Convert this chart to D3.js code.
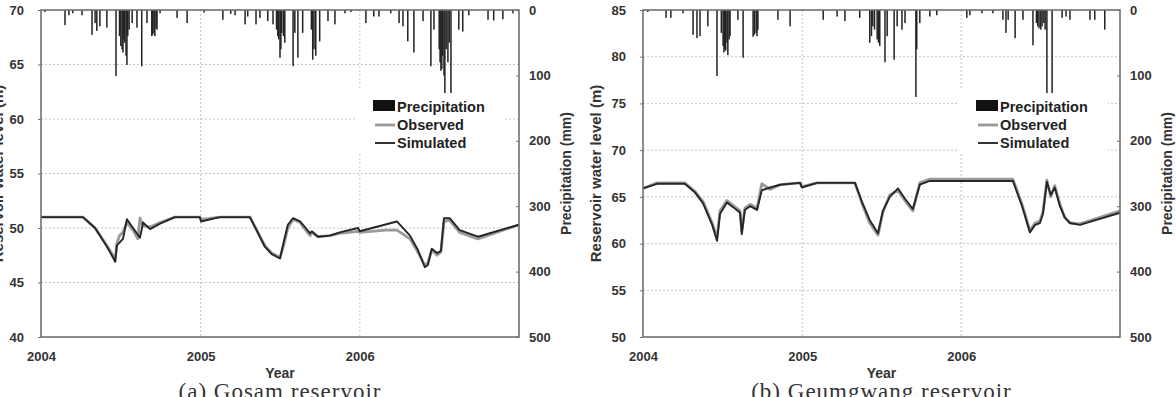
<!doctype html>
<html>

<head>
    <meta charset="UTF-8">
    <title>Reservoir water level</title>
    <script src="https://d3js.org/d3.v7.min.js"></script>
    <style>
        body { margin: 0; background: #fff; }
        text { font-family: "Liberation Sans", Arial, sans-serif; }
    </style>
</head>

<body>
    <script>
        var width = 1176;
        var height = 397;

        // x: days counted from 2004-01-01
        var yearLabels = ["2004", "2005", "2006"];
        var precipTicks = [0, 100, 200, 300, 400, 500];
        var gosamLevelTicks = [40, 45, 50, 55, 60, 65, 70];
        var geumLevelTicks = [50, 55, 60, 65, 70, 75, 80, 85];
        var legendLabels = ["Precipitation", "Observed", "Simulated"];

        // [day, mm]
        var gosamRain = [[9, 3], [55, 23], [64, 8], [73, 5], [94, 8], [117, 38], [124, 20], [128, 32], [135, 25],
            [151, 27], [172, 101], [180, 40], [183, 55], [186, 60], [188, 65], [190, 45], [192, 50], [195, 70],
            [197, 84], [199, 40], [202, 30], [209, 20], [220, 27],
            [231, 86], [243, 20], [254, 40], [256, 38], [259, 35], [261, 40], [264, 28], [266, 30], [273, 5],
            [312, 12], [335, 20],
            [374, 4], [417, 15], [435, 6], [445, 8], [468, 22], [474, 10], [493, 22], [502, 12], [520, 17],
            [532, 22], [540, 30], [543, 40], [545, 45], [548, 73], [550, 60], [552, 35], [556, 40], [559, 50],
            [578, 86], [582, 35], [589, 73], [600, 35],
            [620, 30], [623, 76], [626, 60], [630, 70], [639, 48], [658, 17], [674, 22], [697, 5], [711, 3],
            [745, 20], [763, 10], [775, 10], [802, 5], [821, 20], [830, 25], [841, 48], [855, 65], [876, 17],
            [894, 86], [901, 30], [913, 60], [915, 80], [917, 93], [919, 90], [921, 70], [924, 100], [926, 127],
            [929, 60], [933, 80], [936, 50], [940, 127], [958, 30], [967, 33],
            [981, 8], [1025, 15], [1038, 16], [1059, 14], [1082, 5]];

        // [day, m]
        var gosamObserved = [[0, 51.0], [96, 51.0], [124, 50.0], [151, 48.4], [165, 47.5], [170, 47.0], [174, 48.6],
            [180, 49.3], [188, 49.6], [197, 50.5], [211, 49.8], [222, 49.0], [227, 50.9], [234, 50.2], [250, 50.1],
            [273, 50.5], [307, 51.0], [364, 51.0], [367, 50.8], [410, 51.0], [479, 51.0], [513, 48.4], [529, 47.7],
            [548, 47.3], [557, 48.5], [566, 50.0], [578, 50.8], [594, 50.5], [607, 49.8], [617, 49.3], [621, 49.6],
            [635, 49.2], [662, 49.3], [685, 49.5], [727, 49.7], [731, 49.6], [790, 49.8], [816, 49.8], [846, 49.0],
            [864, 47.8], [880, 46.6], [887, 46.8], [896, 48.0], [908, 47.5], [917, 47.8], [924, 50.6], [937, 50.7],
            [960, 49.6], [1002, 49.0], [1096, 50.3]];
        var gosamSimulated = [[0, 51.0], [96, 51.0], [124, 50.0], [151, 48.3], [165, 47.3], [170, 46.9], [174, 48.4],
            [188, 49.0], [197, 50.8], [211, 50.0], [227, 49.1], [234, 50.5], [250, 49.9], [273, 50.4], [307, 51.0],
            [364, 51.0], [367, 50.6], [410, 51.0], [479, 51.0], [513, 48.3], [529, 47.6], [548, 47.2], [557, 48.8],
            [566, 50.3], [578, 50.9], [594, 50.6], [607, 50.0], [617, 49.5], [621, 49.7], [635, 49.2], [662, 49.3],
            [685, 49.6], [727, 50.0], [731, 49.7], [816, 50.6], [846, 49.3], [864, 48.0], [880, 46.4], [887, 46.6],
            [896, 48.1], [908, 47.7], [917, 47.9], [924, 50.9], [937, 50.9], [960, 49.8], [1002, 49.2], [1096, 50.3]];

        var geumRain = [[11, 3], [53, 12], [64, 12], [92, 5], [115, 38], [124, 43], [131, 40], [149, 25], [170, 101],
            [180, 35], [184, 55], [186, 65], [188, 60], [190, 62], [193, 50], [195, 69], [198, 45], [200, 40],
            [218, 15], [230, 73], [253, 41], [256, 38], [260, 35], [262, 40], [264, 30], [310, 15], [338, 25],
            [414, 15], [446, 10], [464, 17], [498, 12], [521, 50], [525, 40], [528, 25], [532, 30], [538, 45],
            [541, 50], [544, 55], [556, 80],
            [561, 40], [577, 76], [584, 25], [595, 30], [602, 20], [627, 133], [629, 60], [636, 20], [659, 10],
            [675, 8],
            [744, 12], [751, 8], [779, 5], [804, 5], [827, 15], [834, 35], [839, 15], [855, 43], [873, 15],
            [896, 54], [904, 20], [907, 25], [910, 28], [914, 30], [917, 25], [921, 20], [924, 30], [928, 127],
            [940, 127], [963, 12], [972, 10], [981, 15],
            [1027, 15], [1038, 15], [1061, 30]];

        var geumObserved = [[0, 65.9], [32, 66.5], [96, 66.5], [119, 65.6], [138, 64.5], [159, 62.2], [170, 60.6],
            [177, 63.5], [193, 64.6], [207, 64.1], [223, 63.5], [227, 61.3], [234, 63.8], [246, 64.2], [262, 63.8],
            [273, 66.4], [292, 65.8], [315, 66.3], [361, 66.5], [365, 66.1], [400, 66.5], [487, 66.5], [503, 64.3],
            [521, 62.2], [540, 60.9], [551, 63.3], [567, 65.2], [586, 65.7], [602, 64.6], [620, 63.5], [636, 66.5],
            [659, 66.9], [850, 66.9], [871, 64.2], [889, 61.4], [901, 62.2], [912, 62.4], [919, 63.4], [928, 66.8],
            [937, 65.0], [946, 66.2], [958, 64.2], [969, 62.8], [981, 62.2], [1004, 62.1], [1096, 63.5]];
        var geumSimulated = [[0, 65.9], [32, 66.4], [96, 66.4], [119, 65.5], [138, 64.3], [159, 62.0], [170, 60.3],
            [177, 63.2], [193, 64.4], [207, 63.9], [223, 63.3], [227, 61.0], [234, 63.6], [246, 64.0], [262, 63.6],
            [273, 65.7], [292, 66.0], [315, 66.3], [361, 66.5], [365, 66.0], [400, 66.5], [487, 66.5], [503, 64.5],
            [521, 62.5], [540, 61.1], [551, 63.5], [567, 65.0], [586, 65.9], [602, 64.8], [620, 63.7], [636, 66.3],
            [659, 66.7], [850, 66.7], [871, 64.0], [889, 61.2], [901, 62.0], [912, 62.2], [919, 63.2], [928, 66.6],
            [937, 65.2], [946, 66.0], [958, 64.0], [969, 62.8], [981, 62.2], [1004, 62.0], [1096, 63.3]];

        var svg = d3.select("body").append("svg")
            .attr("width", width)
            .attr("height", height)
            .style("background", "#fff");

        function drawPanel(p) {
            var g = svg.append("g");
            var x = d3.scaleLinear().domain([0, 1096]).range([p.left, p.right]);
            var y = d3.scaleLinear().domain(d3.extent(p.levelTicks)).range([p.bottom, p.top]);
            var yp = d3.scaleLinear().domain([0, 500]).range([p.top, p.bottom]);
            var yearDays = [0, 366, 731];

            // dotted grid
            g.selectAll(".hgrid").data(p.levelTicks.slice(1, -1)).enter().append("line")
                .attr("x1", p.left).attr("x2", p.right)
                .attr("y1", function (d) { return y(d); }).attr("y2", function (d) { return y(d); })
                .style("stroke", "#c4c4c4").style("stroke-width", 1).style("stroke-dasharray", "2,2");
            g.selectAll(".vgrid").data(yearDays.slice(1)).enter().append("line")
                .attr("x1", function (d) { return x(d); }).attr("x2", function (d) { return x(d); })
                .attr("y1", p.top).attr("y2", p.bottom)
                .style("stroke", "#c4c4c4").style("stroke-width", 1).style("stroke-dasharray", "2,2");

            // legend background hides grid
            g.append("rect")
                .attr("x", p.legendX - 18).attr("y", p.top + 80)
                .attr("width", 150).attr("height", 62)
                .style("fill", "#fff");

            // precipitation bars hanging from the top
            g.selectAll(".bar").data(p.rain).enter().append("rect")
                .attr("x", function (d) { return x(d[0]) - 0.75; })
                .attr("y", yp(0))
                .attr("width", 1.5)
                .attr("height", function (d) { return yp(d[1]) - yp(0); })
                .style("fill", "#222");

            var line = d3.line()
                .x(function (d) { return x(d[0]); })
                .y(function (d) { return y(d[1]); });

            g.append("path").datum(p.observed).attr("d", line)
                .style("fill", "none").style("stroke", "#9a9a9a").style("stroke-width", 2.8)
                .style("stroke-linejoin", "round");
            g.append("path").datum(p.simulated).attr("d", line)
                .style("fill", "none").style("stroke", "#262626").style("stroke-width", 1.9)
                .style("stroke-linejoin", "round");

            // frame
            g.append("rect")
                .attr("x", p.left).attr("y", p.top)
                .attr("width", p.right - p.left).attr("height", p.bottom - p.top)
                .style("fill", "none").style("stroke", "#707070").style("stroke-width", 1.6);

            // left axis
            var left = g.append("g").attr("transform", "translate(" + p.left + ",0)")
                .call(d3.axisLeft(y).tickValues(p.levelTicks).tickSize(3).tickPadding(14).tickSizeOuter(0));
            // right axis
            var right = g.append("g").attr("transform", "translate(" + p.right + ",0)")
                .call(d3.axisRight(yp).tickValues(precipTicks).tickSize(-3).tickPadding(10).tickSizeOuter(0));
            // bottom axis
            var bottom = g.append("g").attr("transform", "translate(0," + p.bottom + ")")
                .call(d3.axisBottom(x).tickValues(yearDays)
                    .tickFormat(function (d, i) { return yearLabels[i]; })
                    .tickSize(0).tickPadding(15).tickSizeOuter(0));

            [left, right, bottom].forEach(function (a) {
                a.select(".domain").remove();
                a.selectAll("line").style("stroke", "#707070");
                a.selectAll("text").style("font-size", "13px").style("font-weight", "bold")
                    .style("fill", "#333").style("font-family", "'Liberation Sans', Arial, sans-serif");
            });

            // axis titles
            g.append("text")
                .attr("transform", "translate(" + p.yLabelX + "," + ((p.top + p.bottom) / 2) + ") rotate(-90)")
                .attr("text-anchor", "middle")
                .style("font-size", "15px").style("font-weight", "bold").style("fill", "#333")
                .text("Reservoir water level (m)");
            g.append("text")
                .attr("transform", "translate(" + (p.right + 52) + "," + ((p.top + p.bottom) / 2) + ") rotate(-90)")
                .attr("text-anchor", "middle")
                .style("font-size", "14px").style("font-weight", "bold").style("fill", "#333")
                .text("Precipitation (mm)");
            g.append("text")
                .attr("x", (p.left + p.right) / 2).attr("y", 378)
                .attr("text-anchor", "middle")
                .style("font-size", "14px").style("font-weight", "bold").style("fill", "#333")
                .text("Year");

            // caption
            g.append("text")
                .attr("x", (p.left + p.right) / 2).attr("y", 399)
                .attr("text-anchor", "middle")
                .style("font-family", "'Liberation Serif', 'DejaVu Serif', serif")
                .style("font-size", "23px").style("letter-spacing", "1px").style("fill", "#333")
                .text(p.caption);

            // legend
            var lg = g.append("g").attr("transform", "translate(" + p.legendX + "," + (p.top + 90) + ")");
            lg.append("rect").attr("x", 0).attr("y", 0).attr("width", 22).attr("height", 11).style("fill", "#111");
            lg.append("line").attr("x1", 2).attr("x2", 22).attr("y1", 25).attr("y2", 25)
                .style("stroke", "#9a9a9a").style("stroke-width", 2.8);
            lg.append("line").attr("x1", 2).attr("x2", 22).attr("y1", 43).attr("y2", 43)
                .style("stroke", "#262626").style("stroke-width", 1.9);
            lg.selectAll("text").data(legendLabels).enter().append("text")
                .attr("x", 24).attr("y", function (d, i) { return 12 + i * 18; })
                .style("font-size", "14.5px").style("font-weight", "bold").style("fill", "#222")
                .text(function (d) { return d; });
        }

        drawPanel({
            left: 41, right: 519, top: 10, bottom: 337,
            levelTicks: gosamLevelTicks, rain: gosamRain,
            observed: gosamObserved, simulated: gosamSimulated,
            legendX: 373, yLabelX: 3, caption: "(a)  Gosam  reservoir"
        });
        drawPanel({
            left: 643, right: 1120, top: 10, bottom: 337,
            levelTicks: geumLevelTicks, rain: geumRain,
            observed: geumObserved, simulated: geumSimulated,
            legendX: 976, yLabelX: 601, caption: "(b)  Geumgwang  reservoir"
        });
    </script>
</body>

</html>
